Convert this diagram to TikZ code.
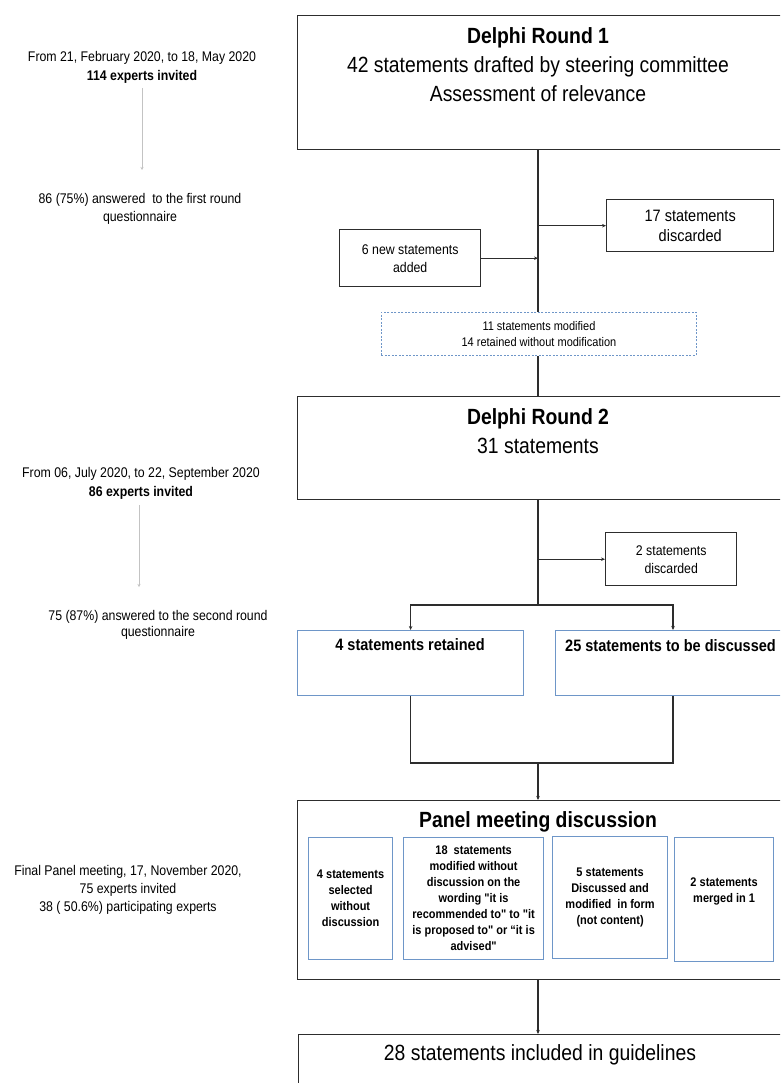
\documentclass[tikz,border=0pt]{standalone}
\usepackage{fontspec}
\setmainfont{Liberation Sans}[FakeStretch=0.88,Ligatures=TeXOff]
\usetikzlibrary{arrows.meta}
\definecolor{edge}{RGB}{45,45,45}
\definecolor{bluebd}{RGB}{110,150,200}
\definecolor{lightg}{RGB}{195,195,195}
\begin{document}
\begin{tikzpicture}[x=1pt,y=-1pt,
  box/.style={draw=edge,line width=1.4pt,anchor=north west,inner sep=0pt,align=center},
  bbox/.style={draw=bluebd,line width=1.2pt,anchor=north west,inner sep=2pt,align=center},
  arr/.style={draw=edge,line width=1.1pt,-{Stealth[length=4pt,width=3.5pt]}},
  ln/.style={draw=edge,line width=1.1pt},
  garr/.style={draw=lightg,line width=0.9pt,-{Stealth[length=3pt,width=3pt]}},
  lt/.style={align=center,font=\fontsize{14}{18.5}\selectfont,inner sep=0pt},
  big/.style={align=center,font=\fontsize{22}{29}\selectfont,inner sep=0pt},
  inner/.style={bbox,font=\fontsize{12.5}{16}\selectfont\bfseries},
]
\useasboundingbox (0,0) rectangle (780,1083);
\clip (0,0) rectangle (780,1083);

% left column
\node[lt] (L1) at (142,67.5) {From 21, February 2020, to 18, May 2020\\\textbf{114 experts invited}};
\node[lt] (A1) at (140,209) {86 (75\%) answered\ \ to the first round\\questionnaire};
\coordinate (g1a) at (142,88);
\coordinate (g1b) at (142,170);
\draw[garr] (g1a) -- (g1b);

\node[lt] (L2) at (141,483.5) {From 06, July 2020, to 22, September 2020\\\textbf{86 experts invited}};
\node[lt,font=\fontsize{14}{16.5}\selectfont] (A2) at (158,625) {75 (87\%) answered to the second round\\questionnaire};
\coordinate (g2a) at (139,505);
\coordinate (g2b) at (139,587);
\draw[garr] (g2a) -- (g2b);

\node[lt,font=\fontsize{14}{18}\selectfont] (L3) at (128,890) {Final Panel meeting, 17, November 2020,\\75 experts invited\\38 ( 50.6\%) participating experts};

% main column
\coordinate (trunk) at (538,0);
\node[box,minimum width=520pt,minimum height=134pt] (r1) at (297,15) {};
\node[big] (r1t) at (538,65) {\textbf{Delphi Round 1}\\42 statements drafted by steering committee\\Assessment of relevance};

\node[box,minimum width=167pt,minimum height=52pt,font=\fontsize{16.5}{20}\selectfont] (d1) at (606,199) {17 statements\\discarded};
\node[box,minimum width=141pt,minimum height=57pt,font=\fontsize{14}{18}\selectfont] (add) at (339,229) {6 new statements\\added};
\node[draw=bluebd,line width=0.9pt,dash pattern=on 2pt off 1.5pt,anchor=north west,inner sep=0pt,align=center,
      minimum width=315pt,minimum height=43pt,font=\fontsize{12.5}{16}\selectfont] (mod) at (381,312)
      {11 statements modified\\14 retained without modification};

\node[box,minimum width=520pt,minimum height=103pt] (r2) at (297,396) {};
\node[big] (r2t) at (538,431.5) {\textbf{Delphi Round 2}\\31 statements};

\node[box,minimum width=131pt,minimum height=53pt,font=\fontsize{14}{18}\selectfont] (d2) at (605,532) {2 statements\\discarded};

\node[bbox,minimum width=226pt,minimum height=65pt] (ret) at (297,630) {};
\node[font=\fontsize{16.5}{20}\selectfont\bfseries,inner sep=0pt] (rett) at (410,645) {4 statements retained};
\node[bbox,minimum width=260pt,minimum height=65pt] (disq) at (555,630) {};
\node[font=\fontsize{16.5}{20}\selectfont\bfseries,inner sep=0pt,anchor=west] (disqt) at (565,646) {25 statements to be discussed};

\node[box,minimum width=520pt,minimum height=179pt] (panel) at (297,800) {};
\node[font=\fontsize{22}{29}\selectfont\bfseries,inner sep=0pt] (panelt) at (538,822) {Panel meeting discussion};

\node[inner,minimum width=84pt,minimum height=122pt] (b1) at (308,837) {4 statements\\selected\\without\\discussion};
\node[inner,minimum width=140pt,minimum height=122pt] (b2) at (403,837) {18\ \ statements\\modified without\\discussion on the\\wording "it is\\recommended to" to "it\\is proposed to" or “it is\\advised"};
\node[inner,minimum width=115pt,minimum height=122pt] (b3) at (552,836) {5 statements\\Discussed and\\modified\ \ in form\\(not content)};
\node[inner,minimum width=99pt,minimum height=124pt] (b4) at (674,837) {2 statements\\merged in 1\\[2pt]\mbox{}};

\node[box,minimum width=520pt,minimum height=100pt] (final) at (298,1034) {};
\node[big] (finalt) at (540,1055) {28 statements included in guidelines};

% connectors
\draw[ln] (r1.south -| trunk) -- (mod.north -| trunk);
\draw[arr] (trunk |- d1.west) -- (d1.west);
\draw[arr] (add.east) -- (add.east -| trunk);
\draw[ln] (mod.south -| trunk) -- (r2.north -| trunk);
\coordinate (split) at (538,605);
\draw[ln] (r2.south -| trunk) -- (split);
\draw[arr] (trunk |- d2.west) -- (d2.west);
\coordinate (dq) at (673,0);
\draw[arr] (split) -| (ret.north);
\draw[arr] (split) -| (disq.north -| dq);
\coordinate (merge) at (538,763);
\draw[ln] (ret.south) |- (merge);
\draw[ln] (disq.south -| dq) |- (merge);
\draw[arr] (merge) -- (panel.north -| trunk);
\draw[arr] (panel.south -| trunk) -- (final.north -| trunk);
\end{tikzpicture}
\end{document}
